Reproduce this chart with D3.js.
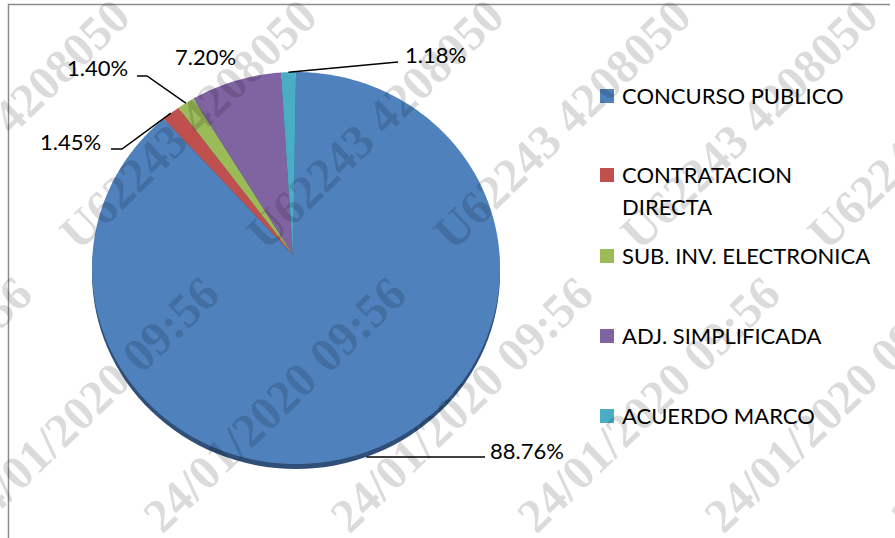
<!DOCTYPE html>
<html lang="es">
<head>
<meta charset="UTF-8">
<title>Pie</title>
<script src="https://d3js.org/d3.v7.min.js"></script>
<style>
body, html { margin: 0; padding: 0; background: #fff; }
text { font-family: Lato, "Liberation Sans", sans-serif; fill: #000; }
.pct { font-size: 22px; }
.legend text { font-size: 22px; }
.leader { fill: none; stroke: #000; stroke-width: 1.5px; }
.wm { font-family: "Liberation Serif", serif; font-weight: bold; font-size: 48px; fill: #000; fill-opacity: 0.14; }
</style>
</head>
<body>
<script>
// data
var categories = ["CONCURSO PUBLICO", "CONTRATACION DIRECTA", "SUB. INV. ELECTRONICA", "ADJ. SIMPLIFICADA", "ACUERDO MARCO"];
var shares = [88.76, 1.45, 1.40, 7.20, 1.18];
var pctLabels = ["88.76%", "1.45%", "1.40%", "7.20%", "1.18%"];
var legendLines = [["CONCURSO PUBLICO"], ["CONTRATACION", "DIRECTA"], ["SUB. INV. ELECTRONICA"], ["ADJ. SIMPLIFICADA"], ["ACUERDO MARCO"]];
var colors = ["#4f81bd", "#c0504d", "#9bbb59", "#8064a2", "#4bacc6"];
var watermark = ["U62243 4208050", "24/01/2020 09:56"];

var w = 895, h = 538;
var cx = 296, cy = 268, rx = 204, ry = 196;
var apex = [293, 255];

// label placement (text x, baseline y, leader points)
var labelPos = [
	{x: 490, y: 459, depth: 5, elbow: [485, 457], leader: true},
	{x: 40, y: 150, elbow: [111, 149], mid: [122, 149], leader: true},
	{x: 67, y: 76, elbow: [137, 76], mid: [147, 76], leader: true},
	{x: 175, y: 65, leader: false},
	{x: 405, y: 63, elbow: [398, 62], leader: true}
];
var legendY = [96, 175, 256, 336, 416];

var svg = d3.select("body").append("svg")
	.attr("width", w)
	.attr("height", h);

// chart border (top + left)
svg.append("path")
	.attr("d", "M8.5,538 L8.5,4.5 L890,4.5")
	.attr("fill", "none")
	.attr("stroke", "#8c8c8c")
	.attr("stroke-width", 1.5);

var pie = d3.pie().sort(null).value(function(d){ return d; });
var arcs = pie(shares);

function ept(a, dy){
	return [cx + rx * Math.sin(a), cy - ry * Math.cos(a) + (dy || 0)];
}

var line = d3.line();

function slicePath(d){
	var n = Math.max(4, Math.ceil((d.endAngle - d.startAngle) / 0.01));
	var pts = [apex];
	d3.range(n + 1).forEach(function(i){
		pts.push(ept(d.startAngle + (d.endAngle - d.startAngle) * i / n));
	});
	return line(pts) + "Z";
}

// 3d-ish bottom edge
svg.append("ellipse")
	.attr("cx", cx).attr("cy", cy + 5)
	.attr("rx", rx).attr("ry", ry)
	.attr("fill", "#2f4f78");

svg.append("g").selectAll("path")
	.data(arcs)
	.enter().append("path")
	.attr("d", slicePath)
	.attr("fill", function(d, i){ return colors[i]; });

// labels + leaders
var lbl = svg.append("g");
arcs.forEach(function(d, i){
	var p = labelPos[i];
	if(p.leader){
		var mid = (d.startAngle + d.endAngle) / 2;
		var pts = [ept(mid, p.depth)];
		if(p.mid) pts.push(p.mid);
		pts.push(p.elbow);
		lbl.append("path").classed("leader", true).attr("d", line(pts));
	}
	lbl.append("text")
		.classed("pct", true)
		.attr("x", p.x)
		.attr("y", p.y)
		.text(pctLabels[i]);
});

// legend
var leg = svg.append("g").classed("legend", true);
categories.forEach(function(c, i){
	var y0 = legendY[i];
	leg.append("rect")
		.attr("x", 600).attr("y", y0 - 7)
		.attr("width", 14).attr("height", 14)
		.attr("fill", colors[i]);
	var t = leg.append("text").attr("x", 622).attr("y", y0 + 8);
	legendLines[i].forEach(function(s, j){
		t.append("tspan").attr("x", 622).attr("dy", j ? 32 : 0).text(s);
	});
});

// watermark, diagonal repeats
var wm = svg.append("g");
d3.range(-2, 6).forEach(function(k){
	wm.append("text")
		.classed("wm", true)
		.attr("transform", "translate(" + (79 + 187 * k) + ",252) rotate(-44)")
		.text(watermark[0]);
	wm.append("text")
		.classed("wm", true)
		.style("text-anchor", "end")
		.attr("transform", "translate(" + (222 + 187 * k) + ",297) rotate(-44)")
		.text(watermark[1]);
});
</script>
</body>
</html>
